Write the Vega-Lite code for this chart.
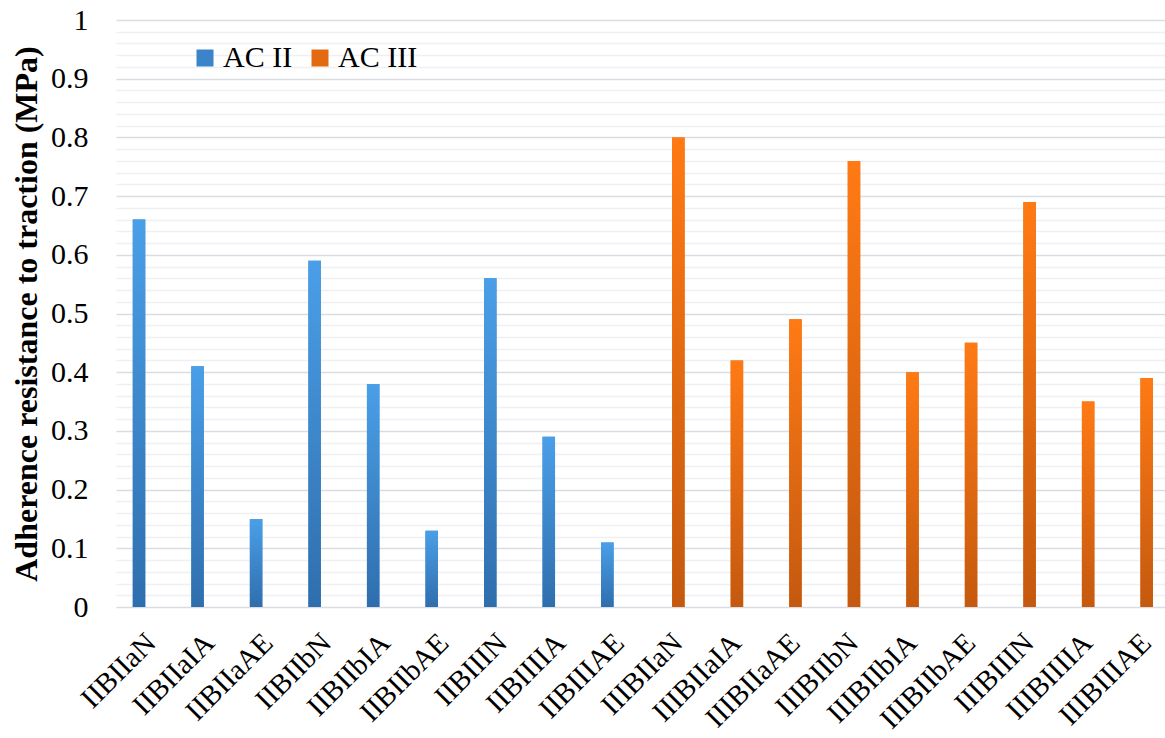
{
  "$schema": "https://vega.github.io/schema/vega-lite/v6.json",
  "width": 1049,
  "height": 587,
  "autosize": "none",
  "padding": {"left": 116, "top": 20, "right": 0, "bottom": 131},
  "background": "white",
  "config": {"view": {"stroke": null}, "font": "Liberation Serif"},
  "data": {
    "values": [
      {"sample": "IIBIIaN", "series": "AC II", "value": 0.66},
      {"sample": "IIBIIaIA", "series": "AC II", "value": 0.41},
      {"sample": "IIBIIaAE", "series": "AC II", "value": 0.15},
      {"sample": "IIBIIbN", "series": "AC II", "value": 0.59},
      {"sample": "IIBIIbIA", "series": "AC II", "value": 0.38},
      {"sample": "IIBIIbAE", "series": "AC II", "value": 0.13},
      {"sample": "IIBIIIN", "series": "AC II", "value": 0.56},
      {"sample": "IIBIIIIA", "series": "AC II", "value": 0.29},
      {"sample": "IIBIIIAE", "series": "AC II", "value": 0.11},
      {"sample": "IIIBIIaN", "series": "AC III", "value": 0.80},
      {"sample": "IIIBIIaIA", "series": "AC III", "value": 0.42},
      {"sample": "IIIBIIaAE", "series": "AC III", "value": 0.49},
      {"sample": "IIIBIIbN", "series": "AC III", "value": 0.76},
      {"sample": "IIIBIIbIA", "series": "AC III", "value": 0.40},
      {"sample": "IIIBIIbAE", "series": "AC III", "value": 0.45},
      {"sample": "IIIBIIIN", "series": "AC III", "value": 0.69},
      {"sample": "IIIBIIIIA", "series": "AC III", "value": 0.35},
      {"sample": "IIIBIIIAE", "series": "AC III", "value": 0.39}
    ]
  },
  "encoding": {
    "x": {
      "field": "sample",
      "type": "nominal",
      "sort": null,
      "scale": {"range": [0, 1053.7], "paddingInner": 0.573, "paddingOuter": 0.2865},
      "axis": {
        "title": null,
        "labelAngle": -45,
        "labelFontSize": 29,
        "labelFont": "Liberation Serif",
        "labelColor": "#000000",
        "labelPadding": 21,
        "labelOffset": -4,
        "ticks": false,
        "domain": false,
        "grid": false,
        "labelOverlap": false
      }
    },
    "xOffset": {
      "field": "series",
      "type": "nominal",
      "scale": {"domain": ["AC II", "AC III"], "paddingInner": 0, "paddingOuter": 0}
    }
  },
  "layer": [
    {
      "mark": {"type": "bar"},
      "encoding": {
        "y": {
          "field": "value",
          "type": "quantitative",
          "scale": {"domain": [0, 1], "nice": false},
          "axis": {
            "orient": "left",
            "values": [0.02, 0.04, 0.06, 0.08, 0.12, 0.14, 0.16, 0.18, 0.22, 0.24, 0.26, 0.28, 0.32, 0.34, 0.36, 0.38, 0.42, 0.44, 0.46, 0.48, 0.52, 0.54, 0.56, 0.58, 0.62, 0.64, 0.66, 0.68, 0.72, 0.74, 0.76, 0.78, 0.82, 0.84, 0.86, 0.88, 0.92, 0.94, 0.96, 0.98],
            "grid": true,
            "gridColor": "#eef0f3",
            "gridWidth": 1.5,
            "labels": false,
            "ticks": false,
            "domain": false,
            "title": null
          }
        },
        "color": {
          "field": "series",
          "type": "nominal",
          "scale": {"domain": ["AC II", "AC III"], "range": ["#3b84c9", "#e36a12"]},
          "legend": {
            "orient": "none",
            "legendX": 74,
            "legendY": 23,
            "direction": "horizontal",
            "title": null,
            "symbolType": "square",
            "symbolSize": 289,
            "symbolStrokeWidth": 0,
            "symbolOpacity": 1,
            "labelFontSize": 30,
            "labelFont": "Liberation Serif",
            "labelColor": "#000000",
            "columnPadding": 12,
            "labelOffset": 3,
            "padding": 0,
            "encode": {
              "symbols": {
                "update": {
                  "fill": [
                    {"test": "datum.value === 'AC II'", "value": {"gradient": "linear", "x1": 0, "y1": 0, "x2": 0, "y2": 1, "stops": [{"offset": 0, "color": "#4a9fe8"}, {"offset": 1, "color": "#2f6ead"}]}},
                    {"value": {"gradient": "linear", "x1": 0, "y1": 0, "x2": 0, "y2": 1, "stops": [{"offset": 0, "color": "#ff7a14"}, {"offset": 1, "color": "#c4590f"}]}}
                  ]
                }
              }
            }
          }
        }
      }
    },
    {
      "mark": {"type": "bar"},
      "encoding": {
        "y": {
          "field": "value",
          "type": "quantitative",
          "scale": {"domain": [0, 1], "nice": false},
          "axis": {
            "orient": "left",
            "values": [0, 0.1, 0.2, 0.3, 0.4, 0.5, 0.6, 0.7, 0.8, 0.9, 1],
            "format": "~g",
            "grid": true,
            "gridColor": "#d9dde3",
            "gridWidth": 1.5,
            "domain": false,
            "ticks": false,
            "labelFontSize": 30,
            "labelFont": "Liberation Serif",
            "labelColor": "#000000",
            "labelPadding": 28,
            "title": "Adherence resistance to traction (MPa)",
            "titleFont": "Liberation Serif",
            "titleFontSize": 32,
            "titleFontWeight": "bold",
            "titleColor": "#000000",
            "titlePadding": 7
          }
        },
        "fill": {
          "condition": {
            "test": "datum.series === 'AC II'",
            "value": {"gradient": "linear", "x1": 0, "y1": 0, "x2": 0, "y2": 1, "stops": [{"offset": 0, "color": "#4a9fe8"}, {"offset": 1, "color": "#2f6ead"}]}
          },
          "value": {"gradient": "linear", "x1": 0, "y1": 0, "x2": 0, "y2": 1, "stops": [{"offset": 0, "color": "#ff7a14"}, {"offset": 1, "color": "#c4590f"}]}
        }
      }
    }
  ],
  "resolve": {"axis": {"y": "independent"}}
}
